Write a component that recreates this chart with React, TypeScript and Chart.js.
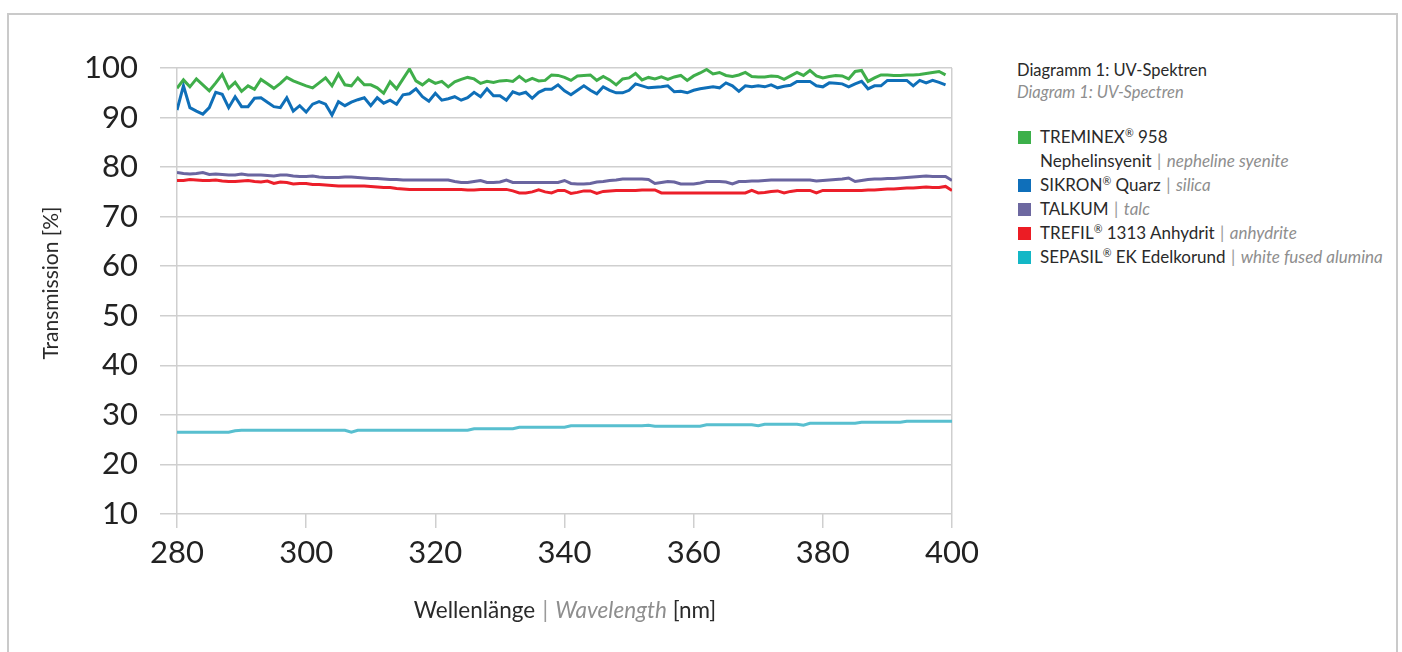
import React, { useEffect, useRef } from "react";
import { Chart, registerables } from "chart.js";

Chart.register(...registerables);

// Wavelength grid, 1 nm steps (280 … 400 nm)
const WAVELENGTHS: number[] = Array.from({ length: 121 }, (_, i) => 280 + i);

// TREMINEX® 958 Nephelinsyenit (280–399 nm)
const TREMINEX: number[] = [
  95.9, 97.6, 96.2, 97.8, 96.6, 95.4, 97.0, 98.7, 95.9, 97.1,
  95.3, 96.4, 95.7, 97.7, 96.8, 95.9, 96.9, 98.1, 97.4, 96.9,
  96.4, 96.0, 97.0, 98.0, 96.4, 98.8, 96.6, 96.4, 98.0, 96.6,
  96.6, 96.0, 94.9, 97.2, 95.8, 97.8, 99.8, 97.4, 96.6, 97.6,
  96.9, 97.3, 96.2, 97.2, 97.7, 98.1, 97.8, 96.9, 97.3, 97.1,
  97.4, 97.5, 97.3, 98.3, 97.3, 97.9, 97.4, 97.5, 98.6, 98.5,
  98.1, 97.5, 98.4, 98.5, 98.6, 97.5, 98.3, 97.6, 96.6, 97.8,
  98.0, 98.9, 97.6, 98.1, 97.8, 98.2, 97.7, 98.2, 98.5, 97.5,
  98.4, 99.0, 99.7, 98.8, 99.1, 98.5, 98.3, 98.6, 99.1, 98.3,
  98.2, 98.2, 98.4, 98.3, 97.7, 98.4, 99.1, 98.5, 99.5, 98.4,
  98.0, 98.3, 98.5, 98.4, 97.8, 99.3, 99.5, 97.3, 98.0, 98.6,
  98.6, 98.5, 98.5, 98.6, 98.6, 98.7, 98.9, 99.1, 99.3, 98.6,
];

// SIKRON® Quarz (280–399 nm)
const SIKRON: number[] = [
  91.5, 96.4, 92.0, 91.3, 90.7, 92.0, 95.1, 94.7, 92.0, 94.2,
  92.2, 92.2, 93.9, 94.0, 93.1, 92.2, 92.0, 94.0, 91.3, 92.4,
  91.1, 92.7, 93.2, 92.7, 90.5, 93.2, 92.4, 93.1, 93.6, 94.0,
  92.4, 94.0, 92.9, 93.5, 92.7, 94.6, 94.8, 95.8, 94.2, 93.3,
  94.9, 93.5, 93.8, 94.2, 93.5, 94.0, 95.1, 94.2, 95.8, 94.4,
  94.4, 93.5, 95.2, 94.7, 95.1, 93.9, 95.1, 95.7, 95.7, 96.6,
  95.4, 94.6, 95.5, 96.4, 95.5, 94.8, 96.2, 95.5, 95.0, 95.0,
  95.5, 96.8, 96.4, 96.0, 96.1, 96.2, 96.4, 95.2, 95.3, 95.0,
  95.5, 95.8, 96.0, 96.2, 96.0, 97.0, 96.4, 95.3, 96.4, 96.2,
  96.4, 96.2, 96.6, 96.0, 96.3, 96.5, 97.3, 97.3, 97.3, 96.4,
  96.2, 97.0, 96.9, 96.8, 96.2, 96.8, 97.3, 95.8, 96.4, 96.4,
  97.5, 97.5, 97.5, 97.5, 96.4, 97.5, 97.0, 97.5, 97.1, 96.6,
];

// TALKUM (280–400 nm)
const TALKUM: number[] = [
  78.9, 78.7, 78.6, 78.7, 78.9, 78.5, 78.6, 78.5, 78.4, 78.4,
  78.6, 78.4, 78.4, 78.4, 78.3, 78.2, 78.4, 78.4, 78.2, 78.1,
  78.1, 78.2, 78.0, 77.9, 77.9, 77.9, 78.0, 78.0, 77.9, 77.8,
  77.7, 77.7, 77.6, 77.5, 77.5, 77.4, 77.4, 77.4, 77.4, 77.4,
  77.4, 77.4, 77.4, 77.1, 76.9, 76.9, 77.1, 77.3, 76.9, 76.9,
  77.0, 77.4, 76.9, 76.9, 76.9, 76.9, 76.9, 76.9, 76.9, 76.9,
  77.3, 76.7, 76.6, 76.6, 76.7, 77.0, 77.1, 77.3, 77.4, 77.6,
  77.6, 77.6, 77.6, 77.5, 76.7, 76.9, 77.1, 77.0, 76.6, 76.6,
  76.6, 76.8, 77.1, 77.1, 77.1, 77.0, 76.6, 77.1, 77.1, 77.2,
  77.2, 77.3, 77.4, 77.4, 77.4, 77.4, 77.4, 77.4, 77.4, 77.2,
  77.3, 77.4, 77.5, 77.6, 77.8, 77.1, 77.3, 77.5, 77.6, 77.6,
  77.7, 77.7, 77.8, 77.9, 78.0, 78.1, 78.2, 78.1, 78.1, 78.1,
  77.3,
];

// TREFIL® 1313 Anhydrit (280–400 nm)
const TREFIL: number[] = [
  77.3, 77.3, 77.5, 77.4, 77.3, 77.3, 77.4, 77.2, 77.1, 77.1,
  77.2, 77.3, 77.1, 77.0, 77.2, 76.7, 77.0, 76.9, 76.6, 76.7,
  76.7, 76.5, 76.5, 76.4, 76.3, 76.2, 76.2, 76.2, 76.2, 76.2,
  76.1, 76.0, 75.9, 75.9, 75.7, 75.6, 75.5, 75.5, 75.5, 75.5,
  75.5, 75.5, 75.5, 75.5, 75.5, 75.4, 75.4, 75.5, 75.5, 75.5,
  75.5, 75.5, 75.2, 74.8, 74.8, 75.0, 75.4, 75.0, 74.8, 75.3,
  75.3, 74.7, 74.9, 75.2, 75.2, 74.7, 75.1, 75.2, 75.3, 75.3,
  75.3, 75.3, 75.4, 75.4, 75.4, 74.8, 74.8, 74.8, 74.8, 74.8,
  74.8, 74.8, 74.8, 74.8, 74.8, 74.8, 74.8, 74.8, 74.8, 75.3,
  74.8, 74.9, 75.1, 75.2, 74.8, 75.1, 75.3, 75.3, 75.3, 74.8,
  75.3, 75.3, 75.3, 75.3, 75.3, 75.3, 75.3, 75.4, 75.4, 75.5,
  75.6, 75.6, 75.7, 75.8, 75.8, 75.9, 76.0, 75.9, 75.9, 76.1,
  75.3,
];

// SEPASIL® EK Edelkorund (280–400 nm)
const SEPASIL: number[] = [
  26.5, 26.5, 26.5, 26.5, 26.5, 26.5, 26.5, 26.5, 26.5, 26.8,
  26.9, 26.9, 26.9, 26.9, 26.9, 26.9, 26.9, 26.9, 26.9, 26.9,
  26.9, 26.9, 26.9, 26.9, 26.9, 26.9, 26.9, 26.5, 26.9, 26.9,
  26.9, 26.9, 26.9, 26.9, 26.9, 26.9, 26.9, 26.9, 26.9, 26.9,
  26.9, 26.9, 26.9, 26.9, 26.9, 26.9, 27.2, 27.2, 27.2, 27.2,
  27.2, 27.2, 27.2, 27.5, 27.5, 27.5, 27.5, 27.5, 27.5, 27.5,
  27.5, 27.8, 27.8, 27.8, 27.8, 27.8, 27.8, 27.8, 27.8, 27.8,
  27.8, 27.8, 27.8, 27.9, 27.7, 27.7, 27.7, 27.7, 27.7, 27.7,
  27.7, 27.7, 28.0, 28.0, 28.0, 28.0, 28.0, 28.0, 28.0, 28.0,
  27.8, 28.1, 28.1, 28.1, 28.1, 28.1, 28.1, 27.9, 28.3, 28.3,
  28.3, 28.3, 28.3, 28.3, 28.3, 28.3, 28.5, 28.5, 28.5, 28.5,
  28.5, 28.5, 28.5, 28.7, 28.7, 28.7, 28.7, 28.7, 28.7, 28.7,
  28.7,
];

const SERIES_NAMES = [
  "TREMINEX® 958 Nephelinsyenit",
  "SIKRON® Quarz",
  "TALKUM",
  "TREFIL® 1313 Anhydrit",
  "SEPASIL® EK Edelkorund",
];
const LINE_COLORS = ["#3fae4a", "#0f6fb8", "#6a65a0", "#ec1f2a", "#58bfcf"];
const SWATCH_COLORS = ["#3cb04a", "#0f6fba", "#6d68a0", "#ec1c24", "#13b7c6"];

const X_MIN = 280;
const X_MAX = 400;
const X_STEP = 20;
const Y_MIN = 10;
const Y_MAX = 100;
const Y_STEP = 10;

const FONT = "Lato, 'Open Sans', sans-serif";
const GRID = "#cfcfcf";

function toPoints(values: number[]) {
  return values.map((v, i) => ({ x: WAVELENGTHS[i], y: v }));
}

const Reg = ({ children }: { children: React.ReactNode }) => (
  <span style={{ fontSize: "0.62em", verticalAlign: "0.55em", lineHeight: 0 }}>{children}</span>
);
const Sep = () => <span style={{ color: "#9a9a9a", margin: "0 0.32em" }}>|</span>;
const It = ({ children }: { children: React.ReactNode }) => (
  <span style={{ color: "#8e8e8e", fontStyle: "italic" }}>{children}</span>
);

export default function App() {
  const canvasRef = useRef<HTMLCanvasElement | null>(null);

  useEffect(() => {
    if (!canvasRef.current) return;
    const seriesValues = [TREMINEX, SIKRON, TALKUM, TREFIL, SEPASIL];
    const chart = new Chart(canvasRef.current, {
      type: "line",
      data: {
        datasets: seriesValues.map((vals, i) => ({
          label: SERIES_NAMES[i],
          data: toPoints(vals),
          borderColor: LINE_COLORS[i],
          backgroundColor: LINE_COLORS[i],
          borderWidth: 3,
          pointRadius: 0,
          tension: 0,
          fill: false,
        })),
      },
      options: {
        animation: false,
        responsive: true,
        maintainAspectRatio: false,
        layout: { padding: { top: 68, right: 48, bottom: 26, left: 0 } },
        plugins: {
          legend: { display: false },
          tooltip: { enabled: false },
        },
        scales: {
          x: {
            type: "linear",
            min: X_MIN,
            max: X_MAX,
            border: { display: false },
            grid: {
              color: (ctx: any) =>
                ctx.tick && (ctx.tick.value === X_MIN || ctx.tick.value === X_MAX)
                  ? GRID
                  : "rgba(0,0,0,0)",
              tickColor: GRID,
              tickLength: 14,
              lineWidth: 1.5,
            },
            ticks: {
              stepSize: X_STEP,
              color: "#222",
              padding: 6,
              font: { family: FONT, size: 31 },
              maxRotation: 0,
            },
            afterFit: (scale: any) => {
              scale.height = 60;
            },
          },
          y: {
            min: Y_MIN,
            max: Y_MAX,
            border: { display: false },
            grid: {
              color: GRID,
              tickColor: GRID,
              tickLength: 17,
              lineWidth: 1.5,
            },
            ticks: {
              stepSize: Y_STEP,
              color: "#222",
              padding: 22,
              font: { family: FONT, size: 31 },
            },
            afterFit: (scale: any) => {
              scale.width = 177;
            },
          },
        },
      },
    });
    return () => chart.destroy();
  }, []);

  const legendRow = (top: number, swatch: string | null, content: React.ReactNode) => (
    <div
      style={{
        position: "absolute",
        left: 1018,
        top,
        height: 24,
        lineHeight: "24px",
        whiteSpace: "nowrap",
      }}
    >
      {swatch && (
        <div
          style={{
            position: "absolute",
            left: 0,
            top: 6,
            width: 13,
            height: 13,
            background: swatch,
          }}
        />
      )}
      <div style={{ position: "absolute", left: 22, top: 0 }}>{content}</div>
    </div>
  );

  return (
    <div
      style={{
        position: "absolute",
        left: 0,
        top: 0,
        width: 1402,
        height: 652,
        overflow: "hidden",
        background: "#fff",
        fontFamily: FONT,
        color: "#2a2a2a",
      }}
    >
      <div
        style={{
          position: "absolute",
          left: 7,
          top: 13,
          width: 1387,
          height: 700,
          border: "2px solid #cacaca",
        }}
      />
      <div style={{ position: "absolute", left: 0, top: 0, width: 1000, height: 600 }}>
        <canvas ref={canvasRef} />
      </div>

      {/* y axis title */}
      <div
        style={{
          position: "absolute",
          left: 50,
          top: 283,
          width: 300,
          textAlign: "center",
          fontSize: 21,
          lineHeight: "26px",
          transform: "translate(-50%, -50%) rotate(-90deg)",
          whiteSpace: "nowrap",
        }}
      >
        Transmission [%]
      </div>

      {/* x axis title */}
      <div
        style={{
          position: "absolute",
          left: 565,
          top: 596,
          transform: "translateX(-50%)",
          fontSize: 22.5,
          lineHeight: "28px",
          whiteSpace: "nowrap",
        }}
      >
        Wellenlänge<Sep />
        <It>Wavelength</It> [nm]
      </div>

      {/* legend */}
      <div
        style={{
          position: "absolute",
          left: 1017,
          top: 59,
          fontSize: 16.5,
          lineHeight: "22px",
          whiteSpace: "nowrap",
        }}
      >
        <div>Diagramm 1: UV-Spektren</div>
        <div style={{ color: "#8e8e8e", fontStyle: "italic" }}>Diagram 1: UV-Spectren</div>
      </div>
      <div style={{ fontSize: 17 }}>
        {legendRow(
          125,
          SWATCH_COLORS[0],
          <span>
            TREMINEX<Reg>®</Reg> 958
          </span>
        )}
        {legendRow(
          149,
          null,
          <span>
            Nephelinsyenit<Sep />
            <It>nepheline syenite</It>
          </span>
        )}
        {legendRow(
          173,
          SWATCH_COLORS[1],
          <span>
            SIKRON<Reg>®</Reg> Quarz<Sep />
            <It>silica</It>
          </span>
        )}
        {legendRow(
          197,
          SWATCH_COLORS[2],
          <span>
            TALKUM<Sep />
            <It>talc</It>
          </span>
        )}
        {legendRow(
          221,
          SWATCH_COLORS[3],
          <span>
            TREFIL<Reg>®</Reg> 1313 Anhydrit<Sep />
            <It>anhydrite</It>
          </span>
        )}
        {legendRow(
          245,
          SWATCH_COLORS[4],
          <span>
            SEPASIL<Reg>®</Reg> EK Edelkorund<Sep />
            <It>white fused alumina</It>
          </span>
        )}
      </div>
    </div>
  );
}
